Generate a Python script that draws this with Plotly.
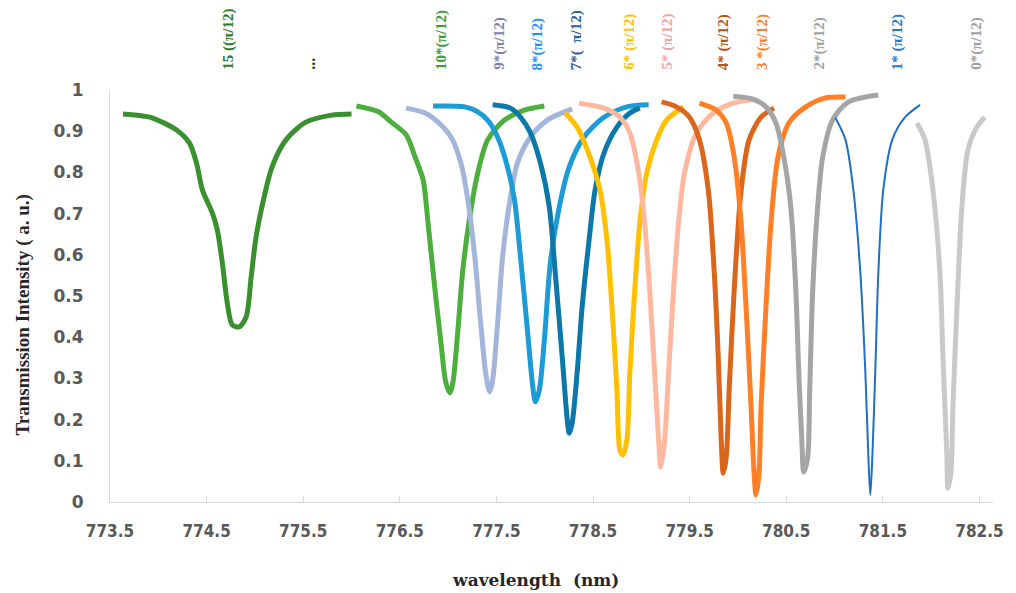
import plotly.graph_objects as go

# ---- data ----
wl_15 = [773.634, 773.911, 774.189, 774.323, 774.395, 774.457, 774.560, 774.611, 774.663, 774.714, 774.765, 774.837, 774.909, 774.961, 775.012, 775.095, 775.177, 775.321, 775.527, 775.794, 776.0]
tr_15 = [0.942, 0.934, 0.903, 0.871, 0.823, 0.757, 0.701, 0.660, 0.580, 0.483, 0.430, 0.425, 0.449, 0.546, 0.643, 0.740, 0.813, 0.879, 0.922, 0.939, 0.942]

wl_10 = [776.051, 776.278, 776.412, 776.566, 776.658, 776.741, 776.792, 776.864, 776.926, 776.977, 777.019, 777.049, 777.101, 777.152, 777.224, 777.307, 777.409, 777.584, 777.790, 777.996]
tr_10 = [0.961, 0.947, 0.922, 0.891, 0.837, 0.782, 0.677, 0.515, 0.386, 0.289, 0.265, 0.289, 0.417, 0.563, 0.692, 0.799, 0.879, 0.927, 0.951, 0.961]

wl_9 = [776.566, 776.761, 776.895, 777.029, 777.132, 777.204, 777.276, 777.337, 777.389, 777.430, 777.461, 777.512, 777.564, 777.636, 777.718, 777.852, 778.027, 778.284]
tr_9 = [0.956, 0.944, 0.922, 0.886, 0.823, 0.733, 0.595, 0.434, 0.313, 0.267, 0.296, 0.434, 0.595, 0.726, 0.823, 0.886, 0.927, 0.954]

wl_8 = [776.844, 777.173, 777.307, 777.409, 777.512, 777.615, 777.687, 777.749, 777.821, 777.872, 777.903, 777.944, 777.996, 778.058, 778.150, 778.253, 778.407, 778.613, 778.850, 779.076]
tr_8 = [0.961, 0.959, 0.947, 0.927, 0.886, 0.813, 0.733, 0.595, 0.417, 0.289, 0.243, 0.272, 0.393, 0.580, 0.716, 0.813, 0.886, 0.934, 0.959, 0.964]

wl_7 = [777.461, 777.646, 777.749, 777.852, 777.955, 778.047, 778.109, 778.181, 778.233, 778.253, 778.284, 778.335, 778.387, 778.459, 778.521, 778.613, 778.747, 778.881, 778.984]
tr_7 = [0.964, 0.956, 0.934, 0.896, 0.823, 0.716, 0.556, 0.352, 0.199, 0.167, 0.192, 0.313, 0.473, 0.636, 0.757, 0.847, 0.910, 0.944, 0.956]

wl_6 = [778.212, 778.335, 778.469, 778.572, 778.644, 778.696, 778.747, 778.778, 778.809, 778.850, 778.881, 778.932, 778.984, 779.056, 779.159, 779.261, 779.436]
tr_6 = [0.944, 0.910, 0.837, 0.757, 0.636, 0.473, 0.272, 0.126, 0.114, 0.150, 0.313, 0.515, 0.677, 0.799, 0.879, 0.927, 0.959]

wl_5 = [778.356, 778.613, 778.778, 778.881, 778.973, 779.035, 779.086, 779.138, 779.179, 779.200, 779.241, 779.282, 779.333, 779.385, 779.447, 779.571, 779.745, 779.951, 780.156]
tr_5 = [0.968, 0.956, 0.934, 0.896, 0.799, 0.677, 0.515, 0.313, 0.150, 0.085, 0.150, 0.313, 0.515, 0.677, 0.799, 0.896, 0.944, 0.968, 0.976]

wl_4 = [779.210, 779.364, 779.498, 779.601, 779.693, 779.755, 779.796, 779.827, 779.848, 779.879, 779.909, 779.961, 780.033, 780.115, 780.239, 780.372]
tr_4 = [0.971, 0.959, 0.934, 0.879, 0.757, 0.556, 0.352, 0.150, 0.070, 0.109, 0.272, 0.515, 0.757, 0.879, 0.934, 0.956]

wl_3 = [779.601, 779.776, 779.879, 779.961, 780.033, 780.084, 780.136, 780.167, 780.187, 780.218, 780.239, 780.290, 780.342, 780.414, 780.527, 780.702, 780.907, 781.113]
tr_3 = [0.968, 0.951, 0.920, 0.837, 0.677, 0.473, 0.231, 0.070, 0.017, 0.070, 0.231, 0.473, 0.677, 0.837, 0.920, 0.959, 0.981, 0.983]

wl_2 = [779.951, 780.156, 780.290, 780.393, 780.475, 780.547, 780.599, 780.630, 780.661, 780.681, 780.722, 780.743, 780.774, 780.825, 780.877, 780.979, 781.144, 781.453]
tr_2 = [0.985, 0.978, 0.959, 0.920, 0.837, 0.716, 0.515, 0.313, 0.150, 0.073, 0.109, 0.272, 0.515, 0.716, 0.837, 0.927, 0.971, 0.988]

wl_1 = [781.010, 781.113, 781.195, 781.267, 781.319, 781.350, 781.370, 781.391, 781.421, 781.453, 781.504, 781.597, 781.730, 781.885]
tr_1 = [0.932, 0.879, 0.757, 0.556, 0.313, 0.109, 0.017, 0.109, 0.313, 0.556, 0.757, 0.879, 0.934, 0.964]

wl_0 = [781.854, 781.936, 782.018, 782.091, 782.122, 782.163, 782.173, 782.204, 782.225, 782.267, 782.318, 782.380, 782.473, 782.555]
tr_0 = [0.920, 0.879, 0.757, 0.556, 0.352, 0.109, 0.034, 0.070, 0.231, 0.473, 0.716, 0.854, 0.910, 0.934]

x_ticks = [773.5, 774.5, 775.5, 776.5, 777.5, 778.5, 779.5, 780.5, 781.5, 782.5]
x_tick_text = ["773.5", "774.5", "775.5", "776.5", "777.5", "778.5", "779.5", "780.5", "781.5", "782.5"]
y_ticks = [0, 0.1, 0.2, 0.3, 0.4, 0.5, 0.6, 0.7, 0.8, 0.9, 1]
y_tick_text = ["0", "0.1", "0.2", "0.3", "0.4", "0.5", "0.6", "0.7", "0.8", "0.9", "1"]

label_text = ["15 ((π/12)", "...", "10*(π/12)", "9*(π/12)", "8*(π/12)", "7*(  π/12)",
              "6* (π/12)", "5* (π/12)", "4* (π/12)", "3 *(π/12)", "2*(π/12)", "1* (π/12)", "0*(π/12)"]
label_pos = [774.724, 775.558, 776.926, 777.523, 777.924, 778.325,
             778.870, 779.261, 779.848, 780.249, 780.835, 781.648, 782.461]
label_color = ["#2f7a2a", "#333333", "#3e9a35", "#7f7fae", "#1e8fff", "#2a5f9e",
               "#ffc000", "#f4a3a3", "#b8520f", "#ff7f1e", "#a0a0a0", "#2878d0", "#a0a0a0"]

series = [
    (wl_15, tr_15, "#3a8f2f", 5),
    (wl_10, tr_10, "#4cae3d", 5),
    (wl_9, tr_9, "#a3b5db", 5),
    (wl_8, tr_8, "#1d9bd7", 5),
    (wl_7, tr_7, "#0b78a9", 5),
    (wl_6, tr_6, "#ffc000", 5),
    (wl_5, tr_5, "#ffb8a0", 5),
    (wl_4, tr_4, "#d9661b", 5),
    (wl_3, tr_3, "#ff7f27", 5),
    (wl_2, tr_2, "#a5a5a5", 5),
    (wl_1, tr_1, "#1f6fc5", 2),
    (wl_0, tr_0, "#c9c9c9", 5),
]

W, H = 1016, 593
ml, mr, mt, mb = 110, 18, 90, 91
pw, ph = W - ml - mr, H - mt - mb

fig = go.Figure()
for wl, tr, col, w in series:
    fig.add_trace(go.Scatter(x=wl, y=tr, mode="lines",
                             line=dict(color=col, width=w, shape="spline", smoothing=0.8),
                             showlegend=False, hoverinfo="skip"))

label_bottom = (H - mb - 72) / ph
for txt, pos, col in zip(label_text, label_pos, label_color):
    fig.add_annotation(x=pos, y=label_bottom, xref="x", yref="paper", text="<b>%s</b>" % txt,
                       textangle=-90, showarrow=False, xanchor="center", yanchor="bottom",
                       font=dict(family="Liberation Serif", size=16 if txt == "..." else 15, color=col))

# axis titles placed as annotations
fig.add_annotation(x=(23 - ml) / pw, y=(H - mb - 315) / ph, xref="paper", yref="paper",
                   text="<b>Transmission Intensity ( a. u.)</b>", textangle=-90, showarrow=False,
                   xanchor="center", yanchor="middle",
                   font=dict(family="Liberation Serif", size=19, color="#262626"))
fig.add_annotation(x=(538 - ml) / pw, y=(H - mb - 580) / ph, xref="paper", yref="paper",
                   text="<b>wavelength  (nm)</b>", showarrow=False,
                   xanchor="center", yanchor="middle",
                   font=dict(family="DejaVu Serif", size=17, color="#262626"))

fig.update_layout(
    width=W, height=H,
    margin=dict(l=ml, r=mr, t=mt, b=mb),
    paper_bgcolor="white", plot_bgcolor="white",
    xaxis=dict(range=[773.5, 782.64], tickmode="array", tickvals=x_ticks, ticktext=x_tick_text,
               showgrid=False, zeroline=False, showline=True, linecolor="#d9d9d9", linewidth=1,
               ticks="inside", ticklen=6, tickcolor="#d9d9d9", ticklabelstandoff=14,
               tickfont=dict(family="DejaVu Sans Condensed", size=17, color="#595959", weight="bold")),
    yaxis=dict(range=[0, 1], tickmode="array", tickvals=y_ticks, ticktext=y_tick_text,
               showgrid=False, zeroline=False, showline=True, linecolor="#d9d9d9", linewidth=1,
               ticks="", ticklabelstandoff=22,
               tickfont=dict(family="DejaVu Sans", size=17, color="#595959", weight="bold")),
)

fig.write_html("out.html")
